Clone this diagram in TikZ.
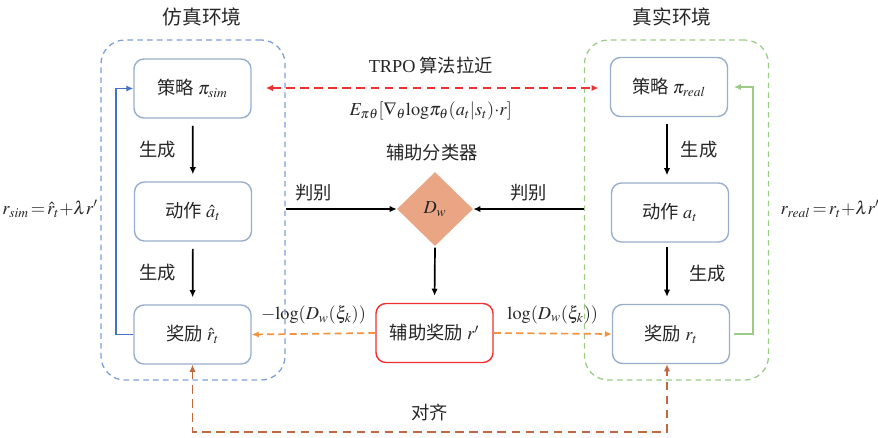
\documentclass[tikz,border=0pt]{standalone}
\usepackage{mathptmx}
\usepackage{fontspec}
\setmainfont{Liberation Serif}
\newfontfamily\cjk{Noto Sans CJK SC}
\usetikzlibrary{shapes.geometric,positioning,arrows.meta}

\definecolor{simblue}{HTML}{7E9ED6}
\definecolor{boxgray}{HTML}{9AAECB}
\definecolor{realgreen}{HTML}{9CCB86}
\definecolor{loopblue}{HTML}{4472C4}
\definecolor{dwsalmon}{HTML}{EAA684}
\definecolor{trpored}{HTML}{EE3030}
\definecolor{auxorange}{HTML}{F5923E}
\definecolor{alignbrown}{HTML}{C0683F}
\definecolor{txtgray}{HTML}{262626}

\begin{document}
\begin{tikzpicture}[
	%	style def
    x=0.025cm, y=-0.025cm,
    every node/.style={font=\cjk\fontsize{13}{15}\selectfont, text=txtgray},
    math text/.style={font=\rmfamily\fontsize{13}{15}\selectfont},
    env box/.style={draw=boxgray, line width=1pt, rounded corners=0.25cm,
        minimum width=2.925cm, minimum height=1.475cm, inner sep=0pt},
    env frame/.style={dashed, dash pattern=on 4pt off 3pt, line width=0.9pt,
        rounded corners=0.6cm, minimum width=4.6cm, minimum height=8.5cm},
    flow line/.style={line width=1.2pt, -{Latex[length=5pt,width=4.5pt]}},
    tip/.style={-{Latex[length=5pt,width=4.5pt]}}
    ]
	\useasboundingbox (0,0) rectangle (878,437);

	% environments
	\node[env frame, draw=simblue] (simenv) at (193,210) {};
	\node[env frame, draw=realgreen] (realenv) at (676.5,210) {};
	\node[font=\cjk\fontsize{14}{16}\selectfont] (simtitle) at (202,17) {仿真环境};
	\node[font=\cjk\fontsize{14}{16}\selectfont] (realtitle) at (672,17) {真实环境};

	% simulation side
	\node[env box] (pisim) at (192.5,88.5) {策略 $\pi_{sim}$};
	\node[env box] (asim) at (193,211.5) {动作 $\hat{a}_t$};
	\node[env box] (rsim) at (192.5,334.5) {奖励 $\hat{r}_t$};

	% real side
	\node[env box] (pireal) at (669,87) {策略 $\pi_{real}$};
	\node[env box] (areal) at (670,212.5) {动作 $a_t$};
	\node[env box] (rreal) at (671,334) {奖励 $r_t$};

	% classifier
	\node[diamond, fill=dwsalmon, minimum width=1.9cm, minimum height=1.85cm,
	      inner sep=0pt, math text] (dw) at (435,209) {$D_w$};
	\node (dwtitle) at (432,153) {辅助分类器};
	\node[env box, draw=trpored] (raux) at (434.5,333) {辅助奖励 $r'$};

	% generation arrows
	\draw[flow line, shorten <=5pt, shorten >=5pt] (pisim) -- node[left=8pt] {生成} (asim);
	\draw[flow line, shorten <=5pt, shorten >=5pt] (asim) -- node[left=8pt] {生成} (rsim);
	\draw[flow line, shorten <=5pt, shorten >=5pt] (pireal.south -| 667,0) -- node[right=6pt] {生成} (areal.north -| 667,0);
	\draw[flow line, shorten <=3pt, shorten >=5pt] (areal.south -| 667,0) -- node[right=12pt] {生成} (rreal.north -| 667,0);

	% discrimination
	\draw[flow line] (simenv.east |- dw) -- node[pos=0.25, above=2pt] {判别} (dw.west);
	\draw[flow line] (realenv.west |- dw) -- node[above=2pt] {判别} (dw.east);
	\draw[flow line, shorten <=1pt, shorten >=5pt] (dw.south) -- (raux.north);

	% reward loops
	\draw[loopblue, line width=1.3pt, tip] (rsim.west) -- ++(-17,0) |- (pisim.west);
	\draw[realgreen, line width=1.3pt, tip, shorten <=3pt, shorten >=4pt] (rreal.east) -- ++(23,0) |- (pireal.east);

	% TRPO pulling
	\draw[trpored, line width=1.2pt, dashed, dash pattern=on 6pt off 4pt,
	      {Latex[length=5pt,width=4.5pt]}-{Latex[length=5pt,width=4.5pt]},
	      shorten <=10pt, shorten >=8pt]
	      (pisim.east |- 0,88) -- node[above=6pt] {{\rmfamily TRPO} 算法拉近}
	      node[below=6pt, math text]
	      {$E_{\pi\theta}[\nabla_\theta \mathrm{log}\pi_\theta(a_t|s_t){\cdot}r]$}
	      (pireal.west |- 0,88);

	% auxiliary rewards
	\draw[auxorange, line width=1.2pt, dashed, dash pattern=on 5pt off 3pt, tip] (raux.west) -- node[above=3pt, math text] {$-\mathrm{log}(D_w(\xi_k))$} (rsim.east);
	\draw[auxorange, line width=1.2pt, dashed, dash pattern=on 5pt off 3pt, tip] (raux.east) -- node[above=3pt, math text] {$\mathrm{log}(D_w(\xi_k))$} (rreal.west);

	% alignment
	\draw[alignbrown, line width=1.2pt, dashed, dash pattern=on 6pt off 4pt,
	      {Latex[length=5pt,width=4.5pt]}-{Latex[length=5pt,width=4.5pt]}]
	      (rsim.south) -- ++(0,67) -| node[pos=0.25, above=4pt, text=txtgray] {对齐} (rreal.south -| 667,0);

	% reward formulas
	\node[math text] (simrew) at (50,209) {$r_{sim}\,{=}\,\hat{r}_t{+}\lambda r'$};
	\node[math text] (realrew) at (830,209) {$r_{real}\,{=}\,r_t{+}\lambda r'$};
\end{tikzpicture}
\end{document}
